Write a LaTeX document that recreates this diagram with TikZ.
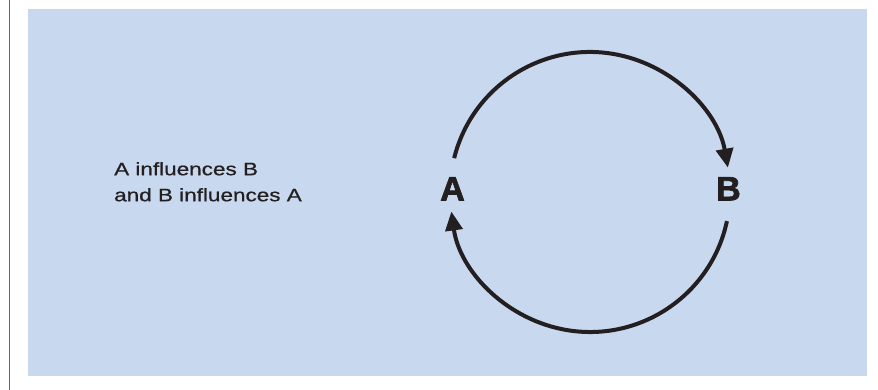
\documentclass[tikz,border=0pt]{standalone}
\usepackage{fontspec}
\setmainfont{Liberation Sans}
\newfontfamily\captionfont[FakeStretch=1.25, FakeBold=0.7]{Liberation Sans}
\newfontfamily\letterfont[FakeBold=2]{Liberation Sans Bold}
\usetikzlibrary{arrows.meta}
\definecolor{panelblue}{HTML}{C8D8EF}
\definecolor{inkblack}{HTML}{231F20}

\begin{document}
\begin{tikzpicture}[x=1pt,y=1pt,
		loop arrow/.style={inkblack, line width=4pt,
			-{Triangle[length=19pt, width=17pt]}},
		letter/.style={inkblack, inner sep=0pt, anchor=base,
			font=\letterfont\fontsize{34}{34}\selectfont}]
			
			% page size
			\useasboundingbox (0,0) rectangle (878,390);
			
			% side rule and blue panel
			\draw[gray!80!black, line width=1.3pt] (9.5,0) -- (9.5,390);
			\fill[panelblue] (28,14) rectangle (867,381);
			
			% caption
			\node[inkblack, anchor=north west, inner sep=0pt, align=left,
				font=\captionfont\fontsize{18}{26}\selectfont] (caption) at (114,228)
				{A influences B\\and B influences A};
			
			% letters A and B
			\coordinate (centre) at (590,198);
			\node[letter] (nodeA) at (452.5,189.5) {A};
			\node[letter] (nodeB) at (728.5,189.5) {B};
			
			% A to B over the top, B to A under the bottom
			\draw[loop arrow] (centre) ++(166:140) arc[start angle=166, end angle=10, radius=140];
			\draw[loop arrow] (centre) ++(-12:140) arc[start angle=-12, end angle=-172, radius=140];
			
		\end{tikzpicture}
\end{document}
